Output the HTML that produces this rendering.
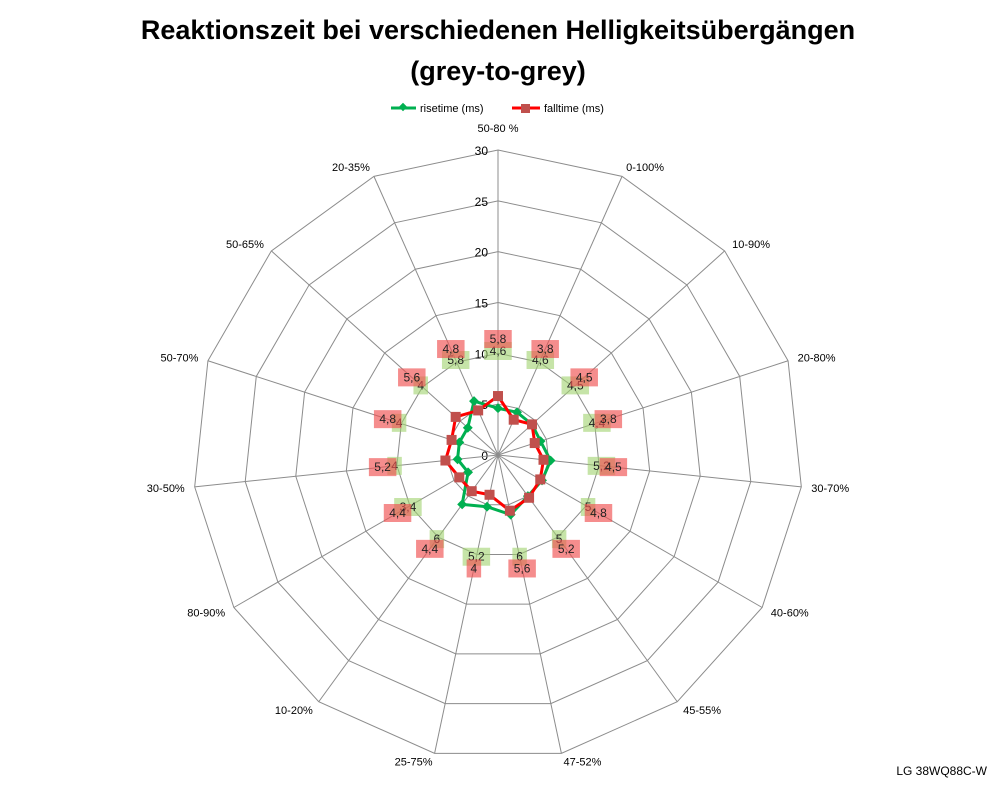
<!DOCTYPE html>
<html><head><meta charset="utf-8"><style>
body{margin:0;background:#fff}
svg{display:block;font-family:"Liberation Sans",Calibri,sans-serif}
</style></head><body>
<svg id="chart" width="998" height="786" viewBox="0 0 998 786">
<text x="498" y="39" text-anchor="middle" font-size="27" font-weight="bold">Reaktionszeit bei verschiedenen Helligkeitsübergängen</text>
<text x="498" y="80" text-anchor="middle" font-size="27" font-weight="bold">(grey-to-grey)</text>
<g font-size="11">
<g>
<line x1="391" y1="108" x2="416" y2="108" stroke="#00b050" stroke-width="3"/>
<rect x="400" y="104" width="6" height="6" fill="#00b050" transform="rotate(45 403 107)"/>
<text x="420" y="112">risetime (ms)</text></g>
<g>
<line x1="512" y1="108" x2="540" y2="108" stroke="#ff0000" stroke-width="3"/>
<rect x="521" y="104" width="9" height="9" fill="#c0504d"/>
<text x="544" y="112">falltime (ms)</text></g>
</g>
<g id="grid"></g>
<g id="series"></g>
<g id="labels"></g>
<text x="987" y="775" text-anchor="end" font-size="12">LG 38WQ88C-W</text>
</svg>
<script>
const categories=["50-80 %","0-100%","10-90%","20-80%","30-70%","40-60%","45-55%","47-52%","25-75%","10-20%","80-90%","30-50%","50-70%","50-65%","20-35%"];
const risetime=[4.6,4.6,4.5,4.4,5.2,5,5,6,5.2,6,3.4,4,4,4,5.8];
const falltime=[5.8,3.8,4.5,3.8,4.5,4.8,5.2,5.6,4,4.4,4.4,5.2,4.8,5.6,4.8];
const tickLabels=["0","5","10","15","20","25","30"];
const maxVal=30;
const cx=498,cy=455,R=305,NS="http://www.w3.org/2000/svg";
const n=categories.length;
function ang(i){return i*2*Math.PI/n;}
function pt(i,v){const a=ang(i),r=v/maxVal*R;return [cx+r*Math.sin(a),cy-r*Math.cos(a)];}
function mk(tag,attrs,parent){const e=document.createElementNS(NS,tag);for(const k in attrs)e.setAttribute(k,attrs[k]);parent.appendChild(e);return e;}
const grid=document.getElementById('grid'),series=document.getElementById('series'),labels=document.getElementById('labels');
tickLabels.forEach((t,k)=>{const v=+t;if(v>0){const p=[];for(let i=0;i<n;i++)p.push(pt(i,v).join(','));
const g=mk('polygon',{points:p.join(' '),fill:'none',stroke:'#8c8c8c','stroke-width':1},grid);

}
const tl=mk('text',{x:cx-10,y:cy-v/maxVal*R+5,'text-anchor':'end','font-size':12},grid);tl.textContent=t;

});
categories.forEach((c,i)=>{const [x,y]=pt(i,maxVal);
const l=mk('line',{x1:cx,y1:cy,x2:x,y2:y,stroke:'#8c8c8c','stroke-width':1},grid);


const s=Math.sin(ang(i)),co=Math.cos(ang(i));
let anchor=s>0.15?'start':(s<-0.15?'end':'middle');
let lx=x+s*10,ly=y-co*10+4;if(Math.abs(s)<=0.15){ly=co>0?y-18:y+16;}
if(co<-0.8){ly=y+12;}
const t=mk('text',{x:lx,y:ly,'text-anchor':anchor,'font-size':11},grid);t.textContent=c;

});
function drawSeries(vals,lineCol,markCol,shape,name,labR,boxCol,textCol){
const pts=vals.map((v,i)=>pt(i,v));
const pl=mk('polygon',{points:pts.map(p=>p.join(',')).join(' '),fill:'none',stroke:lineCol,'stroke-width':3,'stroke-linejoin':'round'},series);


pts.forEach((p,i)=>{let m;
if(shape==='diamond'){m=mk('rect',{x:p[0]-3.5,y:p[1]-3.5,width:7,height:7,fill:markCol,transform:`rotate(45 ${p[0]} ${p[1]})`},series);}
else{m=mk('rect',{x:p[0]-5,y:p[1]-5,width:10,height:10,fill:markCol},series);}


const a=ang(i),lx=cx+labR*Math.sin(a),ly=cy-labR*Math.cos(a);
const txt=String(vals[i]).replace('.',',');const w=txt.length*6.5+8;
const b=mk('rect',{x:lx-w/2,y:ly-9,width:w,height:18,fill:boxCol},labels);


const t=mk('text',{x:lx,y:ly+4,'text-anchor':'middle','font-size':12,fill:textCol},labels);t.textContent=txt;

});}
drawSeries(risetime,'#00b050','#00b050','diamond','risetime',104,'rgba(160,210,110,0.6)','#222');
drawSeries(falltime,'#ff0000','#c0504d','square','falltime',116,'rgba(240,80,80,0.65)','#222');
</script>
</body></html>
